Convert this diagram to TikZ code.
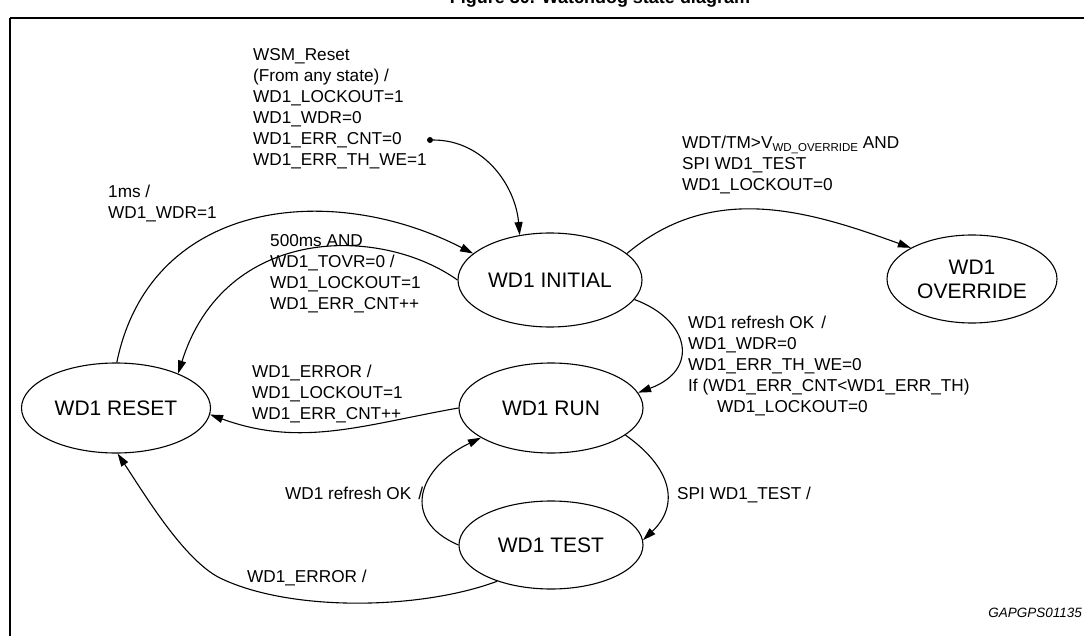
\documentclass[tikz,border=0pt]{standalone}
\usepackage{fontspec}
\setmainfont{Liberation Sans}
\usetikzlibrary{arrows.meta, shapes.geometric, positioning}

\tikzset{
  state/.style={draw, ellipse, line width=1.1pt, inner sep=0pt, align=center,
    font=\fontsize{21}{24}\selectfont},
  lbl/.style={anchor=north west, inner sep=0pt, align=left,
    font=\fontsize{17.2}{21}\selectfont},
  trans/.style={->, line width=1.1pt},
}

\begin{document}
\begin{tikzpicture}[x=1pt, y=-1pt, >={Triangle[length=13pt, width=8pt]}]
  \useasboundingbox (0,0) rectangle (1084,636);
  % frame and (cut) title
  \draw[line width=2.2pt] (10,18) -- (1084,18);
  \draw[line width=1.2pt] (10,18) -- (10,636);
  \node[anchor=base, inner sep=0pt, font=\fontsize{18}{18}\selectfont\bfseries] (title) at (600,4) {Figure 30. Watchdog state diagram};

  % states
  \node[state, minimum width=184pt, minimum height=94pt] (init) at (550,280) {WD1 INITIAL};
  \node[state, minimum width=170pt, minimum height=88pt] (ovr) at (972,279) {WD1\\OVERRIDE};
  \node[state, minimum width=184pt, minimum height=90pt] (run) at (551,408) {WD1 RUN};
  \node[state, minimum width=184pt, minimum height=88pt] (test) at (551,545) {WD1 TEST};
  \node[state, minimum width=189pt, minimum height=90pt] (reset) at (116,408) {WD1 RESET};
  \node[circle, fill, inner sep=0pt, minimum size=6pt] (wsm) at (430,140) {};

  % transitions
  \draw[trans] (wsm) to[out=0, in=95] (init.124);
  \draw[trans] (init.19) to[out=40, in=160] (ovr.153);
  \draw[trans] (reset.89) .. controls (150,200) and (330,180) .. (init.161);
  \draw[trans] (init.180) .. controls (380,225) and (225,225) .. (reset.29);
  \draw[trans] (init.-13) .. controls (690,320) and (700,370) .. (run.10);
  \draw[trans] (run.180) to[out=190, in=-20] (reset.-4);
  \draw[trans] (run.-20) .. controls (672,468) and (680,505) .. (test.3);
  \draw[trans] (test.180) .. controls (400,520) and (418,468) .. (run.203);
  \draw[trans] (test.214) .. controls (420,610) and (290,612) .. (220,578)
    .. controls (184,560) and (145,495) .. (reset.-88);

  % labels
  \node[lbl] (l1) at (253,48) {WSM\_Reset\\(From any state) /\\WD1\_LOCKOUT=1\\WD1\_WDR=0\\WD1\_ERR\_CNT=0\\WD1\_ERR\_TH\_WE=1};
  \node[lbl] (l2) at (682,136) {WDT/TM>V{\fontsize{11.5}{11.5}\selectfont\raisebox{-3pt}{WD\_OVERRIDE}} AND\\SPI WD1\_TEST\\WD1\_LOCKOUT=0};
  \node[lbl] (l3) at (108,185) {1ms /\\WD1\_WDR=1};
  \node[lbl] (l4) at (270,234) {500ms AND\\WD1\_TOVR=0 /\\WD1\_LOCKOUT=1\\WD1\_ERR\_CNT++};
  \node[lbl] (l5) at (688,316) {WD1 refresh OK\hspace{7pt}/\\WD1\_WDR=0\\WD1\_ERR\_TH\_WE=0\\If (WD1\_ERR\_CNT<WD1\_ERR\_TH)\\\hspace*{29pt}WD1\_LOCKOUT=0};
  \node[lbl] (l6) at (252,365) {WD1\_ERROR /\\WD1\_LOCKOUT=1\\WD1\_ERR\_CNT++};
  \node[lbl] (l7) at (677,487) {SPI WD1\_TEST /};
  \node[lbl] (l8) at (285,487) {WD1 refresh OK\hspace{7pt}/};
  \node[lbl] (l9) at (247,570) {WD1\_ERROR /};
  \node[anchor=base east, inner sep=0pt, font=\fontsize{13.5}{15}\selectfont\itshape] (code) at (1082,617) {GAPGPS01135};
\end{tikzpicture}
\end{document}
